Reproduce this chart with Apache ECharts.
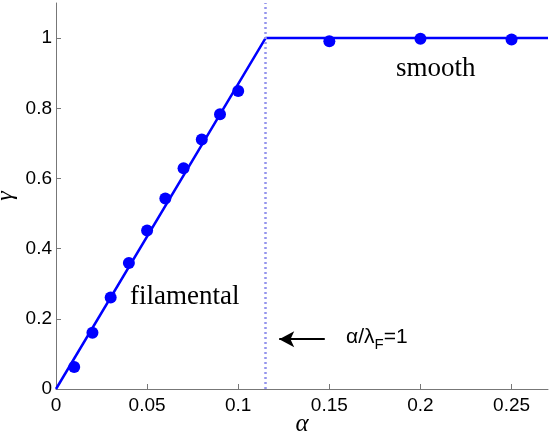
<!DOCTYPE html>
<html>
<head>
<meta charset="utf-8">
<title>gamma vs alpha</title>
<script src="https://cdn.jsdelivr.net/npm/echarts@6/dist/echarts.min.js"></script>
<style>
  html, body { margin: 0; padding: 0; background: #fff; }
  #chart { width: 553px; height: 442px; }
</style>
</head>
<body>
<div id="chart"></div>
<script>
// measured points
var alphaPts = [0.01, 0.02, 0.03, 0.04, 0.05, 0.06, 0.07, 0.08, 0.09, 0.10, 0.15, 0.20, 0.25];
var gammaPts = [0.063, 0.16, 0.261, 0.359, 0.452, 0.543, 0.629, 0.711, 0.783, 0.849, 0.991, 0.998, 0.996];
// model curve (piecewise linear)
var modelAlpha = [0, 0.115, 0.27];
var modelGamma = [0, 1, 1];
var alphaCrit = 0.115;
// arrow pointing at the critical line
var arrowFrom = [0.1475, 0.142];
var arrowTo = [0.1225, 0.142];

var xTicks = [0, 0.05, 0.1, 0.15, 0.2, 0.25];
var yTicks = [0, 0.2, 0.4, 0.6, 0.8, 1];

var chart = echarts.init(document.getElementById('chart'));

var tickFont = { fontFamily: 'Liberation Sans', fontSize: 19, color: '#000' };
var axisGrey = '#777';

var option = {
  animation: false,
  grid: { left: 56, top: 3, right: 5, bottom: 53, outerBoundsMode: 'none', containLabel: false },
  xAxis: {
    type: 'value', min: 0, max: 0.27, interval: 0.05,
    name: 'α', nameLocation: 'middle', nameGap: 23, nameMoveOverlap: false,
    nameTextStyle: { fontFamily: 'Liberation Serif', fontStyle: 'italic', fontSize: 25, color: '#000' },
    axisLine: { show: true, lineStyle: { color: axisGrey, width: 1 } },
    axisTick: { show: true, inside: true, length: 5, lineStyle: { color: axisGrey } },
    axisLabel: Object.assign({ margin: 7, showMaxLabel: false,
      formatter: function (v) { return xTicks.indexOf(+v.toFixed(2)) >= 0 ? String(+v.toFixed(2)) : ''; } }, tickFont),
    splitLine: { show: false }
  },
  yAxis: {
    type: 'value', min: 0, max: 1.1, interval: 0.2,
    name: 'γ', nameLocation: 'middle', nameGap: 38, nameRotate: 90, nameMoveOverlap: false,
    nameTextStyle: { fontFamily: 'Liberation Serif', fontStyle: 'italic', fontSize: 24, color: '#000' },
    axisLine: { show: true, lineStyle: { color: axisGrey, width: 1 } },
    axisTick: { show: true, inside: true, length: 5, lineStyle: { color: axisGrey } },
    axisLabel: Object.assign({ margin: 4, showMaxLabel: false,
      formatter: function (v) { return yTicks.indexOf(+v.toFixed(1)) >= 0 ? String(+v.toFixed(1)) : ''; } }, tickFont),
    splitLine: { show: false }
  },
  series: [
    {
      type: 'line',
      data: modelAlpha.map(function (a, i) { return [a, modelGamma[i]]; }),
      showSymbol: false,
      lineStyle: { color: '#0000ff', width: 2.5 },
      z: 3,
      markLine: {
        silent: true,
        symbol: 'none',
        label: { show: false },
        data: [
          [{ coord: [alphaCrit, 0] }, { coord: [alphaCrit, 1.1] }]
        ],
        lineStyle: { color: '#9494ec', type: [2, 3], width: 2.5 }
      }
    },
    {
      type: 'scatter',
      data: alphaPts.map(function (a, i) { return [a, gammaPts[i]]; }),
      symbol: 'circle',
      symbolSize: 12,
      itemStyle: { color: '#0000ff', opacity: 1 },
      z: 4,
      markLine: {
        silent: true,
        symbol: ['none', 'arrow'],
        symbolSize: [12, 15],
        label: { show: false },
        data: [
          [{ coord: arrowFrom }, { coord: arrowTo }]
        ],
        lineStyle: { color: '#000', type: 'solid', width: 2 },
        itemStyle: { color: '#000' }
      }
    }
  ],
  graphic: [
    { type: 'text', left: 130, top: 283,
      style: { text: 'filamental', font: '27px "Liberation Serif"', fill: '#000' } },
    { type: 'text', left: 396, top: 55,
      style: { text: 'smooth', font: '27px "Liberation Serif"', fill: '#000' } },
    { type: 'text', left: 346, top: 327,
      style: { rich: { a: { fontFamily: 'Liberation Sans', fontSize: 21 }, s: { fontFamily: 'Liberation Sans', fontSize: 15, padding: [15, 0, 0, 0] } },
        text: '{a|α/λ}{s|F}{a|=1}', fill: '#000' } }
  ]
};

chart.setOption(option);
</script>
</body>
</html>
